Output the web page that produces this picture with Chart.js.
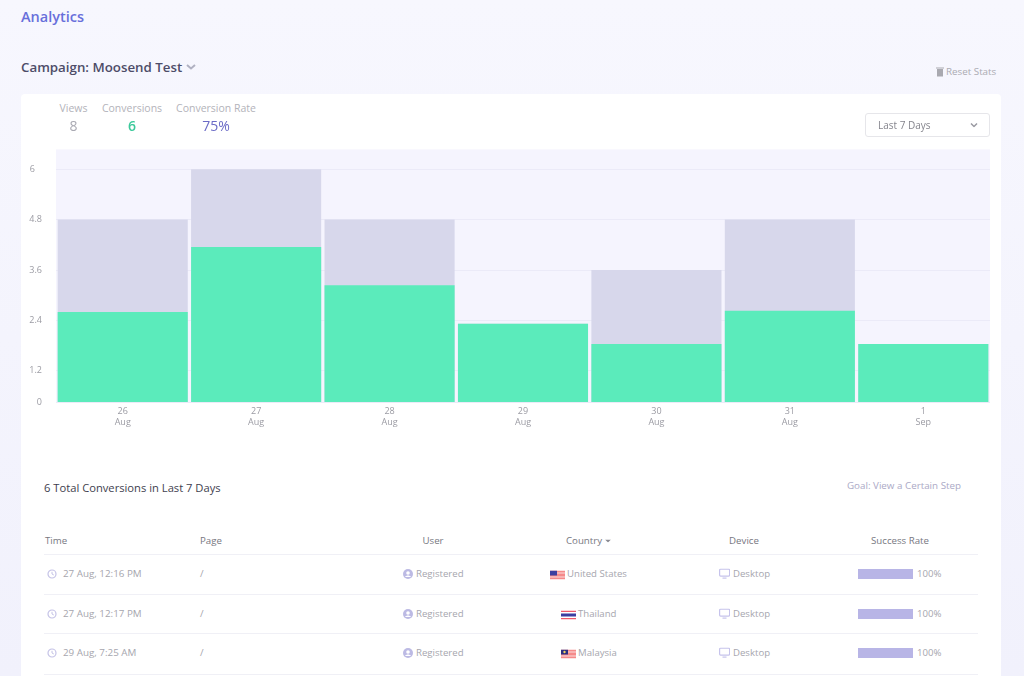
<!DOCTYPE html>
<html>
<head>
<meta charset="utf-8">
<title>Analytics</title>
<script src="https://cdn.jsdelivr.net/npm/chart.js@4"></script>
<style>
  html, body { margin:0; padding:0; width:1024px; height:676px; overflow:hidden; }
  body { background:linear-gradient(#f7f7fe, #f1f1fc); font-family:"Open Sans", sans-serif; position:relative; }
  #card { position:absolute; left:21px; top:94px; width:980px; height:600px; background:#fff; border-radius:4px; }
  #chartWrap { position:absolute; left:21px; top:130px; width:980px; height:302px; }
  .t { position:absolute; white-space:nowrap; transform:translateY(-50%); line-height:1; }
  .c { transform:translate(-50%,-50%); }
  .ln { position:absolute; height:1px; left:44px; width:934px; background:#f0f0f6; }
  .ic { position:absolute; transform:translateY(-50%); }
  #select { position:absolute; left:865px; top:113px; width:123px; height:22px; border:1px solid #e6e6ea; border-radius:3px; }
  .bar { position:absolute; left:858px; width:55px; height:10px; background:#b8b5e6; }
</style>
</head>
<body>
<div id="card"></div>
<div id="select"></div>
<div id="chartWrap"><canvas id="statsChart"></canvas></div>
<div id="page"></div>
<script>
const dayLabels = [['26','Aug'],['27','Aug'],['28','Aug'],['29','Aug'],['30','Aug'],['31','Aug'],['1','Sep']];
const conversions = [2.6, 4.15, 3.24, 2.32, 1.84, 2.63, 1.84];
const views = [4.8, 6, 4.8, 2.32, 3.6, 4.8, 1.84];
// the axis in the picture is not even at the bottom: the "0" sits at about 0.46 of the 1.2 step scale
const yBase = 0.46;
const yTop = 6.47;
const yTicks = [yBase, 1.2, 2.4, 3.6, 4.8, 6];
const yTickLabels = ['0', '1.2', '2.4', '3.6', '4.8', '6\u00a0\u00a0\u00a0'];

const rowTimes = ['27 Aug, 12:16 PM', '27 Aug, 12:17 PM', '29 Aug, 7:25 AM'];
const rowCountries = ['United States', 'Thailand', 'Malaysia'];
const rowRates = [100, 100, 100];

const plotBackground = {
  id:'plotBg',
  beforeDraw(chart){
    const {ctx, chartArea:a} = chart;
    ctx.save();
    ctx.fillStyle = '#f5f4fe';
    ctx.fillRect(a.left, a.top, a.right - a.left, a.bottom - a.top);
    ctx.restore();
  }
};

new Chart(document.getElementById('statsChart'), {
  type:'bar',
  plugins:[plotBackground],
  data:{
    labels: dayLabels,
    datasets:[
      {label:'Conversions', data:conversions, backgroundColor:'#5bebbb', order:1},
      {label:'Views', data:views, backgroundColor:'#d7d7eb', order:2}
    ]
  },
  options:{
    responsive:true,
    maintainAspectRatio:false,
    animation:false,
    layout:{padding:{top:9, right:11, left:0, bottom:0}},
    datasets:{bar:{grouped:false, barPercentage:0.975, categoryPercentage:1, borderWidth:0}},
    plugins:{legend:{display:false}, tooltip:{enabled:false}},
    scales:{
      x:{
        grid:{display:false, drawTicks:false},
        border:{display:false},
        ticks:{color:'#9b9ba3', font:{family:'"Open Sans"', size:9}, padding:4, maxRotation:0},
        afterFit(s){ s.height = 30; }
      },
      y:{
        min:yBase,
        max:yTop,
        afterBuildTicks(s){ s.ticks = yTicks.map(v => ({value:v})); },
        afterFit(s){ s.width = 35; },
        grid:{color:'#ebeaf8', drawTicks:false},
        border:{display:false},
        ticks:{
          color:'#9b9ba3',
          font:{family:'"Open Sans"', size:9},
          padding:14,
          callback:v => yTickLabels[yTicks.indexOf(v)]
        }
      }
    }
  }
});

const page = document.getElementById('page');

function addText(txt, x, y, size, color, weight, center){
  const el = document.createElement('div');
  el.className = center ? 't c' : 't';
  el.textContent = txt;
  el.style.cssText = `left:${x}px;top:${y}px;font-size:${size}px;color:${color};font-weight:${weight||400};`;
  page.appendChild(el);
}
function addIcon(svg, x, y, w, h){
  const el = document.createElement('div');
  el.className = 'ic';
  el.style.cssText = `left:${x}px;top:${y}px;width:${w}px;height:${h}px;`;
  el.innerHTML = `<svg width="${w}" height="${h}" viewBox="0 0 ${w} ${h}" style="display:block">${svg}</svg>`;
  page.appendChild(el);
}
function addLine(y){
  const el = document.createElement('div');
  el.className = 'ln';
  el.style.top = y + 'px';
  page.appendChild(el);
}

addText('Analytics', 21, 17, 14.5, '#686fdb', 600);
addText('Campaign: Moosend Test', 21, 67.5, 13.3, '#4d4c68', 600);
addIcon('<path d="M1 1.5 L5 5 L9 1.5" fill="none" stroke="#b0b1c2" stroke-width="2"/>', 186, 67, 10, 7);
addIcon('<rect x="1" y="2" width="6" height="7.5" fill="#a9a9b0"/><rect x="0" y="0.5" width="8" height="1" fill="#a9a9b0"/>', 936, 72, 8, 10);
addText('Reset Stats', 946, 72, 9.8, '#ababb2');

addText('Views', 73.5, 108, 10.5, '#b3b3ba', 400, true);
addText('Conversions', 132, 108, 10.5, '#b3b3ba', 400, true);
addText('Conversion Rate', 216, 108, 10.5, '#b3b3ba', 400, true);
addText('8', 73.5, 126, 14, '#a9a9b2', 500, true);
addText('6', 132, 126, 14, '#3cc99b', 600, true);
addText('75%', 216, 126, 14, '#6b6bc6', 500, true);

addText('Last 7 Days', 878, 125, 10, '#85858d');
addIcon('<path d="M1 1 L4 4 L7 1" fill="none" stroke="#9a9aa2" stroke-width="1.5"/>', 970, 125, 8, 5);

addText('6 Total Conversions in Last 7 Days', 44, 488, 11.2, '#3e3e4e', 500);
addText('Goal: View a Certain Step', 847, 486, 9.8, '#aba9c6', 500);

addText('Time', 45, 541, 9.7, '#77777f', 500);
addText('Page', 200, 541, 9.7, '#77777f', 500);
addText('User', 433, 541, 9.7, '#77777f', 500, true);
addText('Country', 584, 541, 9.7, '#77777f', 500, true);
addIcon('<path d="M0 0 H6 L3 3 Z" fill="#8a8a92"/>', 605, 541, 6, 3);
addText('Device', 744, 541, 9.7, '#77777f', 500, true);
addText('Success Rate', 900, 541, 9.7, '#77777f', 500, true);
addLine(554);

const clockSvg = '<circle cx="5" cy="5" r="4" fill="none" stroke="#c4c2e6" stroke-width="1.2"/><path d="M5 2.8 V5 L6.8 6" fill="none" stroke="#c4c2e6" stroke-width="1"/>';
const userSvg = '<circle cx="5" cy="5" r="5" fill="#bcbae4"/><circle cx="5" cy="4" r="1.8" fill="#fff"/><path d="M2 8 C3 6 7 6 8 8" fill="#fff"/>';
const desktopSvg = '<rect x="0.6" y="0.6" width="10" height="7" rx="1" fill="none" stroke="#c6c3ec" stroke-width="1.2"/><rect x="3.5" y="9" width="4" height="1.2" fill="#c6c3ec"/>';
const flagSvgs = [
  '<rect width="15" height="9" fill="#f58a8a"/><rect y="2" width="15" height="1" fill="#fbdcdc"/><rect y="6" width="15" height="1" fill="#fbdcdc"/><rect width="7" height="5" fill="#3c3fa0"/>',
  '<rect width="15" height="9" fill="#fff"/><rect width="15" height="1.5" fill="#ee5a6a"/><rect y="7.5" width="15" height="1.5" fill="#ee5a6a"/><rect y="3" width="15" height="3" fill="#3c3fa0"/>',
  '<rect width="15" height="9" fill="#f58a8a"/><rect y="2" width="15" height="1" fill="#fbdcdc"/><rect y="6" width="15" height="1" fill="#fbdcdc"/><rect width="7" height="5" fill="#2d2f80"/><circle cx="3.5" cy="2.5" r="1.2" fill="#f0d060"/>'
];
const flagLeft = [550, 561, 561];
const rowY = [574, 613.5, 653];
const lineY = [594, 633, 674];

rowTimes.forEach((time, i) => {
  const y = rowY[i];
  addIcon(clockSvg, 47, y, 10, 10);
  addText(time, 63, y, 9.8, '#a6a6ae');
  addText('/', 200, y, 9.8, '#a6a6ae');
  addIcon(userSvg, 403, y, 10, 10);
  addText('Registered', 416, y, 9.6, '#a6a6ae');
  addIcon(flagSvgs[i], flagLeft[i], y + 1, 15, 9);
  addText(rowCountries[i], flagLeft[i] + 17, y, 9.6, '#a6a6ae');
  addIcon(desktopSvg, 719, y, 11, 11);
  addText('Desktop', 733, y, 9.6, '#a6a6ae');
  const bar = document.createElement('div');
  bar.className = 'bar';
  bar.style.top = (y - 5) + 'px';
  bar.style.width = (55 * rowRates[i] / 100) + 'px';
  page.appendChild(bar);
  addText(rowRates[i] + '%', 917, y, 9.6, '#a6a6ae');
  addLine(lineY[i]);
});
</script>
</body>
</html>
